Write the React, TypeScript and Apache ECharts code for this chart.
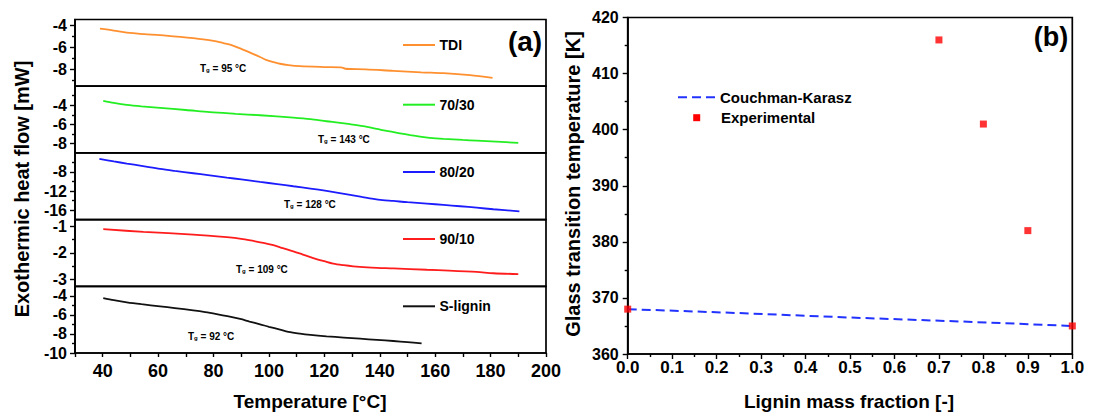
import React, { useEffect, useRef } from 'react';
import * as echarts from 'echarts';

// ---------- data ----------
const tdiCurve: number[][] = [
  [39, -4.33], [44, -4.5], [48.7, -4.69], [55, -4.82], [60.7, -4.9], [68, -5.07], [76.3, -5.29],
  [80, -5.42], [83.5, -5.62], [86.5, -5.8], [89.6, -6.1], [92, -6.35], [94.4, -6.61], [97, -6.9],
  [99.2, -7.15], [102, -7.35], [104, -7.48], [107, -7.6], [111.2, -7.7], [120, -7.78], [126.5, -7.82],
  [127.5, -7.93], [135, -7.98], [144.9, -8.12], [155, -8.25], [163, -8.33], [172.6, -8.51], [180.7, -8.75],
];
const b7030Curve: number[][] = [
  [40.2, -3.54], [44, -3.75], [48.7, -3.96], [54, -4.12], [60.7, -4.28], [70, -4.5], [78.7, -4.73],
  [88, -4.9], [96.8, -5.05], [108.8, -5.29], [115, -5.45], [120.8, -5.68], [125, -5.82], [129.3, -5.99],
  [134, -6.2], [138.9, -6.48], [143, -6.72], [147.3, -6.94], [151, -7.13], [154.5, -7.29], [158, -7.42],
  [163, -7.53], [170, -7.64], [175, -7.71], [182, -7.82], [190, -7.95],
];
const b8020Curve: number[][] = [
  [38.8, -5.25], [44, -5.78], [48.7, -6.24], [54, -6.72], [60.7, -7.36], [66, -7.78], [72.7, -8.27],
  [78, -8.66], [84.8, -9.18], [90, -9.57], [96.8, -10.09], [103, -10.55], [108.8, -11.0], [115, -11.48],
  [120.8, -11.98], [125, -12.38], [129.3, -12.82], [133.5, -13.25], [137.7, -13.66], [141, -13.9],
  [144.9, -14.08], [150, -14.35], [157, -14.64], [163, -14.92], [169, -15.2], [175, -15.5], [181, -15.83],
  [190.4, -16.26],
];
const b9010Curve: number[][] = [
  [40.2, -1.11], [54.7, -1.21], [72.7, -1.31], [84.8, -1.41], [90, -1.47], [94.4, -1.55], [98, -1.62],
  [101.6, -1.71], [105, -1.82], [108.8, -1.94], [112, -2.05], [116, -2.19], [120, -2.31], [123.2, -2.4],
  [127, -2.46], [130.4, -2.5], [137, -2.55], [144.9, -2.58], [157, -2.63], [165, -2.66], [175, -2.71],
  [181, -2.76], [190, -2.79],
];
const sligninCurve: number[][] = [
  [40.2, -4.23], [44, -4.45], [48.7, -4.68], [54, -4.88], [60.7, -5.1], [66, -5.28], [72.7, -5.52],
  [77, -5.7], [81.1, -5.91], [85, -6.13], [89.6, -6.43], [93, -6.7], [96.8, -6.99], [100, -7.25],
  [104, -7.55], [107, -7.78], [111.2, -7.97], [115, -8.1], [120.8, -8.25], [127, -8.38], [132.9, -8.5],
  [139, -8.62], [144.9, -8.74], [150, -8.86], [155.1, -8.99],
];

const panelNames = ['TDI', '70/30', '80/20', '90/10', 'S-lignin'];
const panelTg = ['95', '143', '128', '109', '92'];
const panelMin = [-9.5, -9, -18, -3.25, -10];
const panelMax = [-3.5, -2, -4, -0.75, -3];
const panelMajorTicks = [[-4, -6, -8], [-4, -6, -8], [-8, -12, -16], [-1, -2, -3], [-4, -6, -8, -10]];
const panelMinorTicks = [[-5, -7, -9], [-3, -5, -7], [-6, -10, -14], [-1.5, -2.5], [-5, -7, -9]];

const ckX = [0, 0.25, 0.5, 0.75, 1.0];
const ckY = [368, 367.3, 366.5, 365.8, 365];
const expX = [0, 0.7, 0.8, 0.9, 1.0];
const expY = [368, 416, 401, 382, 365];

// ---------- styles ----------
const FONT = "'Liberation Sans', Arial, Helvetica, sans-serif";
const colors = ['#ff9030', '#22ee22', '#1c1cff', '#ff1c1c', '#111111'];
const curves = [tdiCurve, b7030Curve, b8020Curve, b9010Curve, sligninCurve];

const L_LEFT = 75;
const L_WIDTH = 471;
const L_TOP = 19.5;
const L_H = 66.7;
const R_LEFT = 627.7;
const R_WIDTH = 444.6;
const R_TOP = 17.5;
const R_H = 336.5;

const legendY = [45, 104.7, 172, 239, 306.3];
const tgPos = [[200, 68], [318, 139], [284, 204], [236, 269], [188, 336]];

export default function App() {
  const ref = useRef<HTMLDivElement>(null);
  useEffect(() => {
    if (!ref.current) return;
    const chart = echarts.init(ref.current, undefined, { renderer: 'svg' });

    const grids: any[] = [];
    const xAxes: any[] = [];
    const yAxes: any[] = [];
    const series: any[] = [];
    const graphics: any[] = [];

    for (let i = 0; i < 5; i++) {
      grids.push({
        left: L_LEFT, width: L_WIDTH, top: L_TOP + i * L_H, height: L_H,
        show: true, borderColor: '#000', borderWidth: 1.7, backgroundColor: 'transparent',
      });
      const isBottom = i === 4;
      xAxes.push({
        type: 'value', gridIndex: i, min: 30, max: 200, interval: 10, show: isBottom,
        axisLine: { show: true, lineStyle: { color: '#000', width: 1.7 } },
        axisTick: { show: true, length: 4, lineStyle: { color: '#000', width: 1.4 } },
        axisLabel: {
          show: true, margin: 9, color: '#000', fontFamily: FONT, fontWeight: 'bold', fontSize: 18,
          formatter: (v: number) => (v % 20 === 0 && v >= 40 ? String(v) : ''),
        },
        splitLine: { show: false },
      });
    }
    for (let i = 0; i < 5; i++) {
      yAxes.push({
        type: 'value', gridIndex: i, min: panelMin[i], max: panelMax[i], position: 'left',
        axisLine: { show: true, lineStyle: { color: '#000', width: 1.7 } },
        axisTick: { show: true, length: 5, customValues: panelMajorTicks[i], lineStyle: { color: '#000', width: 1.4 } },
        axisLabel: {
          show: true, margin: 8, color: '#000', fontFamily: FONT, fontWeight: 'bold', fontSize: 16,
          customValues: panelMajorTicks[i],
          formatter: (v: number) => String(v),
        },
        splitLine: { show: false },
      });
    }
    for (let i = 0; i < 5; i++) {
      yAxes.push({
        type: 'value', gridIndex: i, min: panelMin[i], max: panelMax[i], position: 'left',
        axisLine: { show: false },
        axisTick: { show: true, length: 3, customValues: panelMinorTicks[i], lineStyle: { color: '#000', width: 1.4 } },
        axisLabel: { show: false },
        splitLine: { show: false },
      });
    }
    curves.forEach((c, i) => {
      series.push({
        type: 'line', xAxisIndex: i, yAxisIndex: i, data: c, showSymbol: false, symbol: 'none',
        smooth: 0.3, lineStyle: { color: colors[i], width: 1.8 }, z: 3,
      });
      graphics.push({
        type: 'line', shape: { x1: 403, y1: legendY[i], x2: 435, y2: legendY[i] },
        style: { stroke: colors[i], lineWidth: 2 },
      });
      graphics.push({
        type: 'text', x: 439.5, y: legendY[i],
        style: { text: panelNames[i], fill: '#000', fontFamily: FONT, fontWeight: 'bold', fontSize: 14, align: 'left', verticalAlign: 'middle' },
      });
      graphics.push({
        type: 'text', x: tgPos[i][0], y: tgPos[i][1],
        style: {
          text: 'T{s|g} = ' + panelTg[i] + ' °C', fill: '#000', fontFamily: FONT, fontWeight: 'bold', fontSize: 10,
          align: 'left', verticalAlign: 'middle', lineHeight: 10,
          rich: { s: { fontSize: 6, fontWeight: 'bold', fontFamily: FONT, fill: '#000', verticalAlign: 'bottom', lineHeight: 6, padding: [5, 0, 0, 0] } },
        },
      });
    });

    // right panel
    grids.push({
      left: R_LEFT, width: R_WIDTH, top: R_TOP, height: R_H,
      show: true, borderColor: '#000', borderWidth: 1.7, backgroundColor: 'transparent',
    });
    xAxes.push({
      type: 'value', gridIndex: 5, min: 0, max: 1, interval: 0.1,
      axisLine: { show: true, lineStyle: { color: '#000', width: 1.7 } },
      axisTick: { show: true, length: 5, lineStyle: { color: '#000', width: 1.4 } },
      minorTick: { show: true, splitNumber: 2, length: 3, lineStyle: { color: '#000', width: 1.4 } },
      axisLabel: {
        margin: 5, color: '#000', fontFamily: FONT, fontWeight: 'bold', fontSize: 17,
        formatter: (v: number) => v.toFixed(1),
      },
      splitLine: { show: false }, minorSplitLine: { show: false },
    });
    yAxes.push({
      type: 'value', gridIndex: 5, min: 360, max: 420, interval: 10,
      axisLine: { show: true, lineStyle: { color: '#000', width: 1.7 } },
      axisTick: { show: true, length: 5, lineStyle: { color: '#000', width: 1.4 } },
      minorTick: { show: true, splitNumber: 2, length: 3, lineStyle: { color: '#000', width: 1.4 } },
      axisLabel: { margin: 9, color: '#000', fontFamily: FONT, fontWeight: 'bold', fontSize: 16 },
      splitLine: { show: false }, minorSplitLine: { show: false },
    });
    series.push({
      type: 'line', xAxisIndex: 5, yAxisIndex: 10, data: ckX.map((x, k) => [x, ckY[k]]),
      showSymbol: false, symbol: 'none', lineStyle: { color: '#2233ff', width: 2, type: [9, 5] }, z: 3,
    });
    series.push({
      type: 'scatter', xAxisIndex: 5, yAxisIndex: 10, data: expX.map((x, k) => [x, expY[k]]),
      symbol: 'rect', symbolSize: 7, itemStyle: { color: '#ff0000' }, z: 4,
    });

    graphics.push(
      { type: 'line', shape: { x1: 678, y1: 97.3, x2: 715, y2: 97.3 }, style: { stroke: '#2233ff', lineWidth: 2, lineDash: [9, 5] } },
      { type: 'text', x: 720, y: 97.3, style: { text: 'Couchman-Karasz', fill: '#000', fontFamily: FONT, fontWeight: 'bold', fontSize: 15, align: 'left', verticalAlign: 'middle' } },
      { type: 'rect', shape: { x: 693.2, y: 114.2, width: 7, height: 7 }, style: { fill: '#ff0000' } },
      { type: 'text', x: 721, y: 117.7, style: { text: 'Experimental', fill: '#000', fontFamily: FONT, fontWeight: 'bold', fontSize: 15, align: 'left', verticalAlign: 'middle' } },
      { type: 'text', x: 525, y: 41, style: { text: '(a)', fill: '#000', fontFamily: FONT, fontWeight: 'bold', fontSize: 28, align: 'center', verticalAlign: 'middle' } },
      { type: 'text', x: 1051, y: 37, style: { text: '(b)', fill: '#000', fontFamily: FONT, fontWeight: 'bold', fontSize: 27, align: 'center', verticalAlign: 'middle' } },
      { type: 'text', x: 310, y: 401, style: { text: 'Temperature [°C]', fill: '#000', fontFamily: FONT, fontWeight: 'bold', fontSize: 19, align: 'center', verticalAlign: 'middle' } },
      { type: 'text', x: 849, y: 401, style: { text: 'Lignin mass fraction [-]', fill: '#000', fontFamily: FONT, fontWeight: 'bold', fontSize: 19, align: 'center', verticalAlign: 'middle' } },
      { type: 'text', x: 22, y: 189, rotation: Math.PI / 2, style: { text: 'Exothermic heat flow [mW]', fill: '#000', fontFamily: FONT, fontWeight: 'bold', fontSize: 20, align: 'center', verticalAlign: 'middle' } },
      { type: 'text', x: 573, y: 184, rotation: Math.PI / 2, style: { text: 'Glass transition temperature [K]', fill: '#000', fontFamily: FONT, fontWeight: 'bold', fontSize: 20, align: 'center', verticalAlign: 'middle' } },
    );

    chart.setOption({
      animation: false,
      backgroundColor: '#ffffff',
      grid: grids,
      xAxis: xAxes,
      yAxis: yAxes,
      series,
      graphic: graphics,
    });
    return () => chart.dispose();
  }, []);
  return <div ref={ref} style={{ position: 'fixed', left: 0, top: 0, width: 1096, height: 412 }} />;
}
